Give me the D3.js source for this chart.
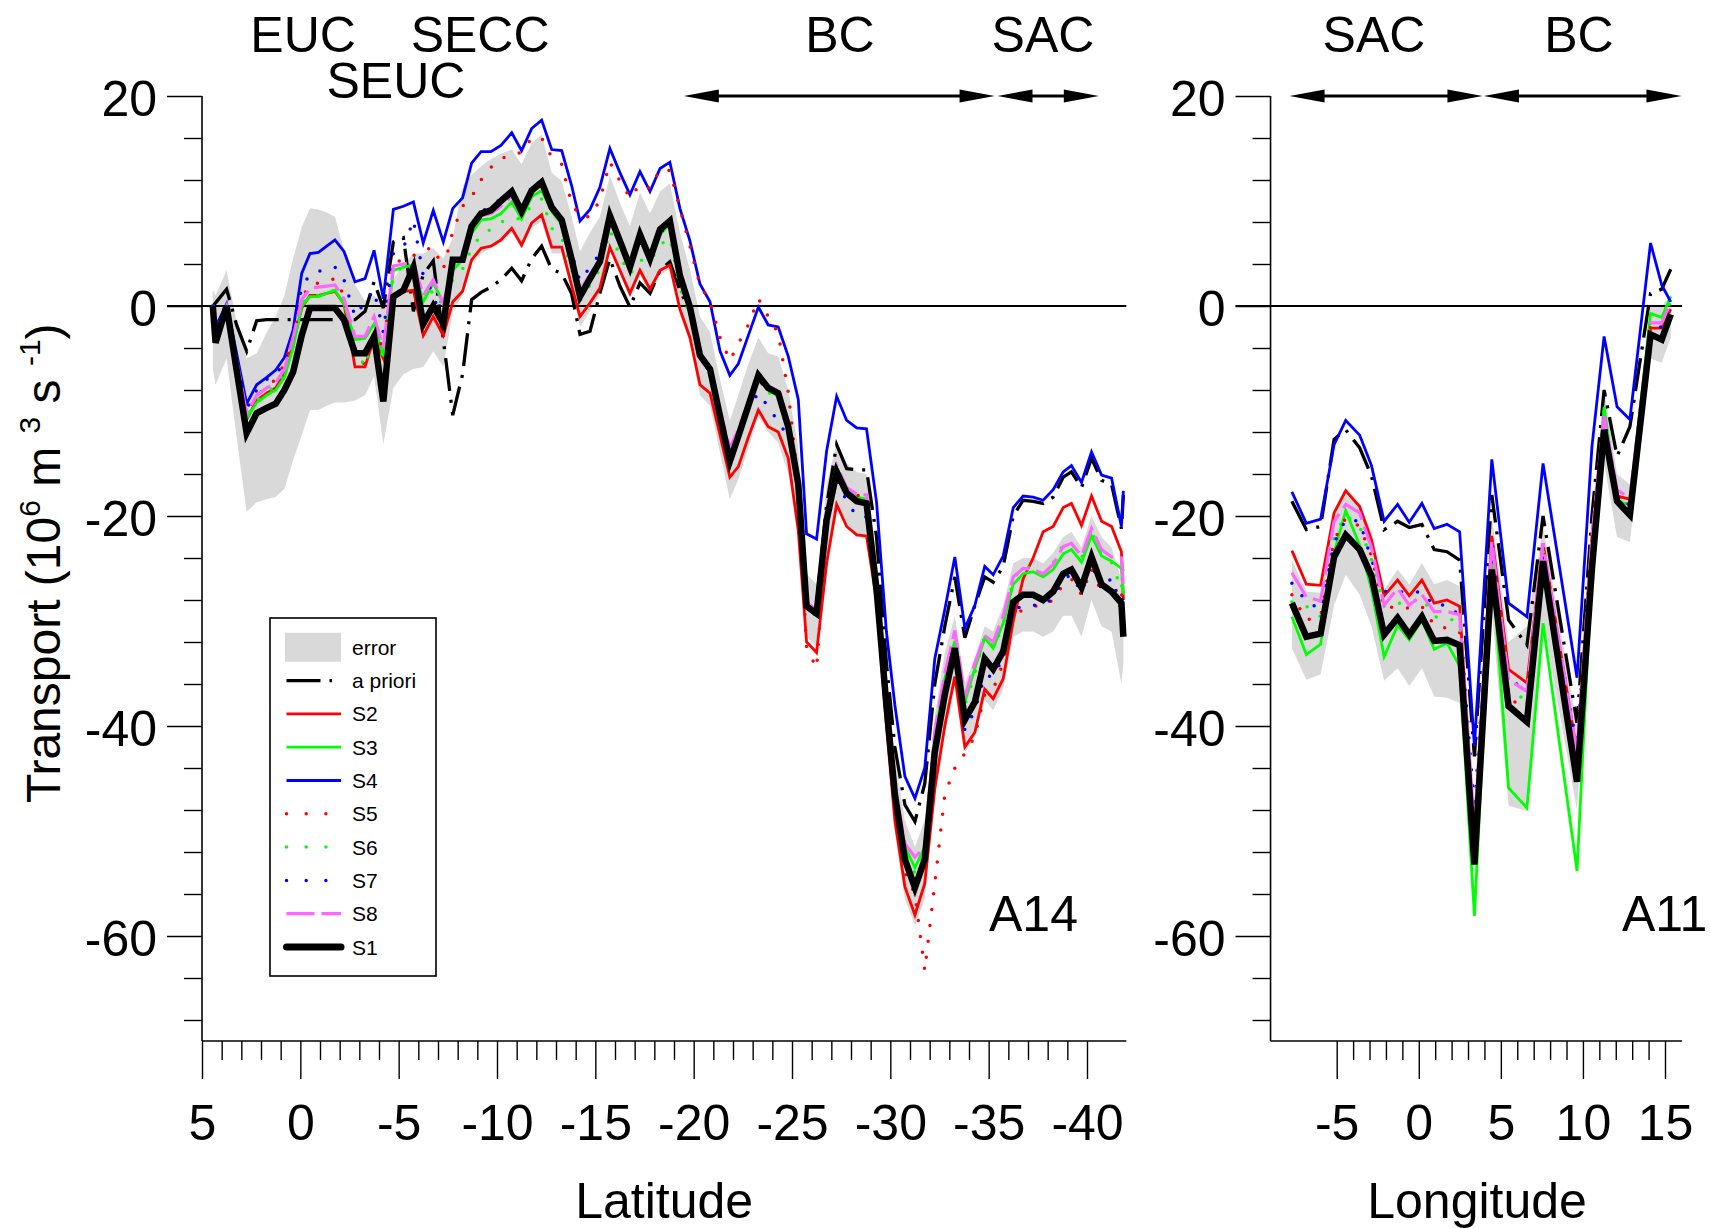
<!DOCTYPE html>
<html>
<head>
<meta charset="utf-8">
<script src="https://cdn.jsdelivr.net/npm/d3@7"></script>
<style>
  body { margin: 0; background: #fff; }
  svg { display: block; }
  text { font-family: "Liberation Sans", Arial, sans-serif; fill: #000; }
</style>
</head>
<body>
<svg id="chart" width="1710" height="1228"></svg>
<script>
// ---- A14 section (latitude) ----
var latA14 = [4.45, 4.31, 3.75, 3.24, 2.73, 2.22, 1.71, 1.25, 0.81, 0.37,
  -0.07, -0.49, -0.92, -1.34, -1.76, -2.22, -2.78, -3.29, -3.75, -4.22,
  -4.73, -5.24, -5.75, -6.25, -6.76, -7.27, -7.75, -8.25, -8.71, -9.19,
  -9.69, -10.20, -10.75, -11.25, -11.76, -12.27, -12.78, -13.29, -13.79, -14.22,
  -14.73, -15.23, -15.74, -16.25, -16.76, -17.27, -17.78, -18.29, -18.79, -19.30,
  -19.81, -20.32, -20.83, -21.34, -21.84, -22.27, -22.78, -23.29, -23.79, -24.30,
  -24.81, -25.32, -25.74, -26.25, -26.76, -27.27, -27.78, -28.29, -28.79, -29.30,
  -29.80, -30.23, -30.74, -31.25, -31.75, -32.26, -32.77, -33.28, -33.79, -34.30,
  -34.80, -35.23, -35.74, -36.25, -36.75, -37.26, -37.77, -38.28, -38.79, -39.21,
  -39.72, -40.23, -40.74, -41.25, -41.75, -41.85];

var s1A14 = [0, -3.5, 0, -6.1, -12.1, -10.2, -9.7, -9.3, -8.0, -6.3,
  -2.8, -0.2, -0.2, -0.2, -0.2, -1.3, -4.5, -4.5, -2.9, -9.1,
  0.9, 1.5, 3.7, -1.7, 0, -1.7, 4.4, 4.4, 7.6, 8.8,
  9.1, 10.0, 10.9, 9.0, 11.0, 11.8, 9.4, 8.2, 4.5, 0.9,
  2.6, 4.2, 8.6, 6.2, 3.7, 6.8, 4.5, 7.3, 8.1, 2.9,
  -0.1, -4.7, -6.0, -10.5, -14.8, -12.4, -9.5, -6.6, -7.8, -8.3,
  -11.5, -17, -28.6, -29.3, -20.4, -15.8, -17.8, -18.6, -18.8, -27,
  -38, -46.5, -52.7, -55.4, -52.7, -42.5, -37, -32.6, -39.4, -37.7,
  -33.6, -34.6, -32.9, -28.2, -27.5, -27.5, -28.0, -27.2, -25.5, -25.1,
  -26.8, -23.9, -26.5, -27.2, -28.3, -31.5];

var s2A14 = [0, -2.5, 0, -5.4, -10.8, -9.0, -8.3, -7.8, -6.4, -3.6,
  -0.2, 1.0, 1.0, 1.2, 1.4, 0.2, -5.8, -5.8, -3.0, -5.0,
  1.0, 1.4, 1.5, -2.8, -1.0, -2.8, 0.4, 1.4, 4.4, 5.5,
  5.7, 6.3, 7.4, 5.8, 7.9, 8.7, 5.6, 5.6, 2.0, -1.0,
  0.3, 1.7, 5.6, 3.4, 1.2, 3.4, 1.6, 3.4, 3.9, -0.3,
  -3.0, -7.5, -8.3, -12.3, -16.3, -15.3, -12.5, -9.9, -11.5, -12.0,
  -14.5, -21.4, -32, -33, -24.5, -18.9, -21.0, -21.8, -21.9, -28,
  -40, -49, -55.3, -58, -55, -46, -40, -35.3, -42, -40.6,
  -36.5, -37.4, -35.5, -30, -26, -24, -21.5, -21, -19.2, -18.8,
  -20.9, -18.1, -20.5, -21, -23.4, -28];

var s3A14 = [0, -2.8, 0, -5.8, -10.7, -9.2, -8.5, -8.0, -6.8, -4.0,
  0, 0.9, 0.9, 1.2, 1.5, 0.2, -3.2, -3.1, -1.7, -4.8,
  3.4, 3.7, 3.9, 0.4, 2.2, 0.3, 3.4, 4.4, 6.9, 8.2,
  8.3, 8.8, 9.9, 8.3, 10.4, 11.0, 9.0, 7.8, 4.3, 1.2,
  2.8, 4.3, 8.2, 5.8, 3.6, 6.3, 4.5, 6.8, 7.8, 2.5,
  -0.3, -4.9, -6.1, -10.2, -14.0, -12.0, -9.3, -6.9, -8.0, -8.6,
  -11.8, -17.3, -28.3, -29.0, -19.8, -15.4, -17.5, -18.2, -18.4, -26.5,
  -37.5, -46, -51.5, -53.5, -51.5, -41, -35.5, -31.9, -37.7, -34.5,
  -31.6, -32.6, -30.2, -26.5, -25.5, -25.3, -25.8, -25.1, -23.6, -23.2,
  -24.4, -21.9, -23.8, -24.3, -25, -27.5];

var s4A14 = [0, -2.0, 0.2, -4.5, -9.3, -7.5, -6.8, -6.1, -4.9, -2.3,
  3.1, 5.0, 5.1, 5.7, 6.3, 5.2, 2.3, 2.6, 5.3, 0.7,
  9.2, 9.5, 9.9, 6.0, 9.1, 6.1, 9.3, 10.3, 13.6, 14.7,
  14.7, 15.3, 16.5, 14.8, 16.9, 17.7, 14.9, 14.8, 11.5, 8.1,
  9.2, 11.3, 15.0, 12.7, 10.6, 12.8, 10.9, 13.1, 13.7, 9.3,
  6.2, 2.1, 0.4, -4.3, -6.6, -5.5, -2.8, -0.1, -1.8, -2.0,
  -4.8, -8.9, -21.7, -22.2, -13.8, -8.6, -10.9, -11.6, -11.7, -18.7,
  -31, -38, -44.8, -46.9, -44, -33.6, -28.9, -23.9, -30.7, -28.5,
  -24.8, -25.6, -23.8, -19.2, -18.1, -18.2, -18.5, -17.5, -15.8, -15.2,
  -16.8, -13.9, -16.1, -16.4, -21.0, -17.6];

var s5A14 = [0, -2.5, 0, -5.2, -10.3, -8.6, -7.6, -7.0, -5.5, -3.0,
  0.8, 2.0, 2.2, 2.4, 2.6, 1.0, -5.2, -5.5, -2.5, -4.0,
  4.0, 4.5, 4.8, 5.3, 5.6, 3.5, 7.1, 9.5, 10.4, 12.0,
  13.2, 14.0, 14.5, 14.6, 16.0, 16.0, 14.2, 13.5, 9.8, 8.5,
  8.5, 10.1, 13.7, 11.9, 10.3, 11.6, 11.2, 13.0, 12.9, 9.3,
  5.7, 2.0, 0.4, -3.0, -5.2, -3.6, -1.8, 0.7, -1.0, -2.6,
  -8.2, -17, -32.5, -34.5, -21, -16, -18, -17.8, -19.5, -27,
  -39, -48, -54, -56, -63.3, -55, -46.5, -44, -42.6, -41,
  -37, -36.5, -34, -29.5, -28.9, -28.6, -28.5, -28, -26.5, -26,
  -27.5, -25, -27.3, -26.3, -28, -24.5];

var s6A14 = [0, -2.7, 0, -5.6, -10.5, -9.0, -8.2, -7.6, -6.3, -3.8,
  0.2, 1.0, 1.0, 1.3, 1.5, 0.3, -4.0, -5.8, -2.5, -4.9,
  3.0, 3.8, 3.5, 0.3, 1.5, 0, 2.5, 3.5, 5.5, 6.8,
  7.3, 8.0, 8.3, 8.3, 9.6, 10.2, 7.4, 6.5, 3.5, 0.5,
  2.0, 3.5, 7.2, 4.7, 3.0, 4.4, 4.2, 5.8, 6.5, 1.7,
  -0.8, -5.0, -6.2, -10.5, -14.3, -12.2, -9.4, -7.0, -8.2, -8.8,
  -12.0, -17.5, -28.5, -29.2, -20.0, -15.5, -17.6, -18.4, -18.6, -26.8,
  -37.6, -46, -52, -54, -52, -41.5, -36, -32, -38, -35,
  -31.4, -32.5, -30.5, -26, -24.8, -25, -25.5, -24.5, -22.7, -22.6,
  -24, -21.5, -23.5, -24.4, -27, -24.5];

var s7A14 = [0, -2.2, 0.1, -4.8, -9.8, -8.0, -7.0, -6.6, -5.3, -2.6,
  1.8, 3.0, 3.3, 3.5, 3.7, 2.5, -1.0, 0.4, 1.5, -2.5,
  5.0, 5.5, 8.2, 2.9, 1.2, -2.3, 4.0, 5.0, 7.5, 9.0,
  9.5, 10.2, 10.6, 9.5, 11.0, 11.5, 9.3, 8.0, 5.0, 2.4,
  3.7, 5.0, 9.0, 6.0, 3.8, 6.5, 4.5, 7.0, 7.8, 2.5,
  -0.3, -5.0, -6.3, -10.5, -14.5, -12.4, -9.7, -8.3, -9.6, -11.0,
  -12.5, -17.5, -28.8, -29.5, -20.5, -16.5, -18.6, -20.0, -20.1, -27.5,
  -38.3, -46.8, -53, -55.7, -53, -43, -37.5, -33.5, -40.4, -38.5,
  -35.2, -35.3, -33.5, -29, -28.5, -28.5, -28.5, -27.8, -26, -25.6,
  -27.3, -24.5, -27, -25.9, -29, -26.5];

var s8A14 = [0, -2.6, 0, -5.2, -10.2, -8.5, -7.8, -7.3, -6.0, -3.0,
  0.6, 1.7, 1.8, 1.9, 2.0, 0.7, -2.9, -2.9, -1.0, -4.0,
  3.8, 4.0, 4.2, 1.0, 2.5, 0.2, 4.0, 4.6, 7.3, 8.6,
  8.8, 9.5, 10.5, 8.6, 10.8, 11.5, 9.2, 8.0, 4.5, 1.5,
  3.0, 4.5, 8.5, 6.0, 3.8, 6.5, 4.8, 7.5, 8.0, 2.8,
  0, -4.5, -5.8, -10.0, -13.5, -11.8, -9.2, -6.8, -7.9, -8.4,
  -11.4, -17, -28.2, -29.0, -19.6, -15.2, -17.3, -17.9, -18.0, -26.5,
  -37.3, -45.8, -51.2, -52.5, -51.5, -40.5, -35, -30.9, -37.2, -34,
  -31.4, -32, -29.5, -25.8, -25, -25.1, -25.5, -24.6, -22.9, -22.6,
  -23.8, -21.2, -23.2, -23.9, -24, -26.8];

var aprioriA14 = [0, 0.3, 1.6, -1.8, -4.3, -1.4, -1.3, -1.3, -1.3, -1.3,
  -1.3, -1.3, -1.3, -1.3, -1.3, -1.3, -1.3, -0.5, 2.3, -0.2,
  6.1, 6.5, -0.5, 3.0, 4.3, -3.2, -10.4, -6.5, 0.6, 1.3,
  1.8, 2.5, 3.6, 2.4, 4.5, 5.7, 3.5, 3.1, 1.2, -2.7,
  -2.4, 1.2, 4.5, 1.9, -0.1, 2.2, 1.2, 3.4, 4.2, 1.5,
  -0.5, -4.5, -6.0, -10.3, -14.5, -12.2, -9.3, -7.0, -8.0, -8.5,
  -11.5, -16.5, -28, -28.5, -19, -13.2, -15.5, -15.6, -15.6, -22,
  -34, -42, -47.5, -49.1, -45.5, -36, -30.5, -25.8, -31.6, -28.5,
  -25.8, -26.3, -24.8, -20, -18.5, -18.6, -18.8, -18.2, -16.3, -15.8,
  -17.3, -14.5, -16.6, -17, -21.2, -18];

var errLoA14 = [-6, -7.5, -5, -12.5, -19.6, -18.7, -18.4, -18.2, -17.4, -14.7,
  -12.3, -9.9, -9.9, -9.5, -9.2, -9.2, -9.0, -8.5, -6.7, -13.2,
  -7.8, -6.5, -6.0, -5.8, -4.3, -5.8, -0.5, 1.0, 4.1, 5.0,
  5.5, 6.0, 7.0, 5.5, 7.5, 8.0, 5.0, 5.0, 1.5, -2.0,
  -0.5, 1.2, 5.5, 3.0, 0.8, 3.0, 1.0, 3.0, 3.5, -0.8,
  -3.5, -8.5, -9.5, -14, -18.4, -16.5, -13.5, -10.5, -12, -13,
  -16, -21, -31.5, -32.5, -24, -19, -21, -22, -22.2, -30,
  -41, -50, -56.5, -59, -56.5, -46, -40, -36, -42.5, -41,
  -37.5, -38.5, -36.5, -31.5, -31, -31, -31.5, -31, -29.5, -29.5,
  -31.5, -28, -30.5, -31, -36, -34];

var errHiA14 = [1.5, 1, 3.4, -1.5, -5, -4.5, -2.5, -1, 1, 4.5,
  7.5, 9.3, 9.2, 8.9, 8.5, 5.3, 2, 0.5, 1, 0,
  2.5, 4, 5, 5, 5.5, 4.5, 6.5, 11.4, 12.5, 13.3,
  14, 14.5, 14.9, 13.5, 15.5, 16.3, 12.7, 11.9, 8.5, 5.2,
  7.0, 8.5, 12.4, 9.8, 7.6, 10.8, 8.8, 10.9, 11.7, 7.0,
  3.5, -1.0, -2.5, -7, -10.9, -8.5, -5.5, -3.0, -4.5, -4.8,
  -8, -13.5, -25.5, -26.5, -17, -13, -15, -15.8, -16, -24,
  -35, -43, -49, -51.5, -49, -39, -33, -29.5, -36, -33.5,
  -30.5, -31, -28.5, -24.5, -24, -24, -24.5, -23.5, -22, -21.5,
  -23, -20, -22, -23, -26, -24];

// ---- A11 section (longitude) ----
var lonA11 = [-7.73, -6.85, -5.98, -5.16, -4.45, -3.6, -2.88, -2.11, -1.29, -0.58,
  0.19, 0.94, 1.72, 2.49, 3.39, 4.45, 5.47, 6.59, 7.57, 9.64,
  10.55, 11.29, 12.08, 12.86, 14.12, 14.8, 15.35];
var s1A11 = [-28.3, -31.5, -31.2, -23.9, -21.8, -23.2, -25.7, -31.3, -29.7, -31.3,
  -29.6, -31.9, -31.8, -32.3, -53.2, -25.1, -38.1, -39.6, -24.3, -45.3,
  -25, -11.8, -18.6, -19.9, -2.7, -3.2, -0.8];
var s2A11 = [-23.3, -26.5, -26.6, -19.7, -17.6, -19.1, -22.3, -27.6, -26.1, -27.6,
  -26.1, -28.3, -28.0, -28.6, -51, -21.9, -34.6, -35.9, -22.6, -42.6,
  -22, -10.5, -18.1, -18.4, -2.1, -2.1, -0.3];
var s3A11 = [-29.6, -33.2, -32.2, -23.5, -19.5, -22.8, -27, -33.4, -30.4, -31.8,
  -29.9, -32.7, -32.1, -34.3, -58.1, -24.4, -45.9, -47.8, -30.2, -53.8,
  -25, -9.6, -18.6, -18.9, -0.7, -1.1, 0.9];
var s4A11 = [-17.7, -20.7, -20.3, -13.2, -10.9, -12.3, -15.2, -20.5, -18.9, -20.6,
  -18.8, -21.2, -20.8, -21.5, -41.9, -14.6, -28.3, -29.6, -15.0, -35.4,
  -13.4, -2.9, -9.6, -10.8, 6.0, 2.0, 0.4];
var s5A11 = [-27.5, -29.9, -29.6, -22.3, -20.2, -21.0, -23.8, -28.8, -28.6, -28.8,
  -28.6, -30.4, -30.7, -31.1, -50.5, -22.1, -37.5, -38.1, -23.0, -43,
  -23, -11, -18, -19, -2, -2, -0.5];
var s6A11 = [-28.2, -28.6, -29.6, -22, -19.9, -21, -24.2, -28.6, -28.3, -28.3,
  -27.8, -29.6, -29.7, -30.2, -52, -24.4, -36.7, -37.5, -23.2, -44,
  -23, -10, -18.5, -19, -1.5, -1.5, 0.5];
var s7A11 = [-26.4, -28.1, -28.9, -22.6, -20.3, -20.5, -24.2, -27.2, -27.2, -27.3,
  -27.2, -28.6, -28.4, -29.5, -48, -22.9, -35.6, -36.5, -23.7, -42,
  -22, -10.5, -18, -19, -2, -2, 0];
var s8A11 = [-25.4, -27.7, -28.1, -20.5, -18.9, -19.7, -23, -28.5, -26.9, -28.5,
  -27.5, -29.1, -29.1, -29.4, -50, -22.4, -35.6, -36.7, -22.6, -42.6,
  -22, -10.5, -17.5, -18.3, -1.6, -1.6, 0.3];
var aprioriA11 = [-18.6, -21.3, -21.0, -12.7, -11.8, -13.5, -16.2, -21.3, -20.5, -21.1,
  -20.8, -23.2, -23.4, -24.2, -42.9, -18, -29.9, -32.3, -20, -39.7,
  -20, -8, -14.3, -11.5, 1.2, 1.6, 3.5];
var errLoA11 = [-32.6, -35.6, -35.1, -28.5, -25.6, -27.5, -30.5, -35.7, -34.5, -36.2,
  -34.5, -37.2, -37.3, -37.8, -55, -29, -47.6, -48.1, -30, -48,
  -28, -15, -22, -22.5, -5, -5.4, -3];
var errHiA11 = [-24.2, -27.2, -27.3, -19.5, -18, -19, -21.5, -27, -25.1, -26.5,
  -24.5, -26.5, -26.1, -26.7, -47, -20, -32, -30.5, -21, -40,
  -20, -8, -16, -17, 0, 0, 1];

// ---- axes / annotations ----
var yMajor = [20, 0, -20, -40, -60];
var yMinor = [16, 12, 8, 4, -4, -8, -12, -16, -24, -28, -32, -36, -44, -48, -52, -56, -64, -68];
var latMajor = [5, 0, -5, -10, -15, -20, -25, -30, -35, -40];
var lonMajor = [-5, 0, 5, 10, 15];
var regionsA14 = [["EUC", -0.14, 0], ["SEUC", -4.86, 1], ["SECC", -9.14, 0], ["BC", -27.44, 0], ["SAC", -37.76, 0]];
var regionsA11 = [["SAC", -2.73, 0], ["BC", 9.76, 0]];
var arrowsA14 = [[-19.5, -35.3], [-35.45, -40.6]];
var arrowsA11 = [[-7.87, 3.88], [3.97, 16.0]];

var svg = d3.select("#chart");

var y = d3.scaleLinear().domain([-70, 20]).range([1041, 96]);
var xL = d3.scaleLinear().domain([5, -40]).range([202, 1087]);
var xR = d3.scaleLinear().domain([-5, 15]).range([1336.7, 1665]);

var styles = {
  apriori: { stroke: "#000", width: 3.3, dash: "33,9,3,9" },
  s2: { stroke: "#ff0000", width: 2.8 },
  s3: { stroke: "#00ff00", width: 2.8 },
  s4: { stroke: "#0000ff", width: 2.8 },
  s5: { stroke: "#ff0000", width: 3.5, dash: "0,16", cap: "round" },
  s6: { stroke: "#00ff00", width: 3.5, dash: "0,16", cap: "round" },
  s7: { stroke: "#0000ff", width: 3.5, dash: "0,16", cap: "round" },
  s8: { stroke: "#ff66ff", width: 3.2, dash: "28,7" },
  s1: { stroke: "#000", width: 6.5 }
};

function drawPanel(x, xs, series, lo, hi, x0, x1) {
  var g = svg.append("g");
  var band = xs.map(function (d, i) { return [d, lo[i], hi[i]]; });
  g.append("path")
    .attr("d", d3.area().x(function (d) { return x(d[0]); })
      .y0(function (d) { return y(d[1]); })
      .y1(function (d) { return y(d[2]); })(band))
    .attr("fill", "#d9d9d9");

  // zero line
  g.append("line")
    .attr("x1", x0 - 35).attr("x2", x1)
    .attr("y1", y(0)).attr("y2", y(0))
    .attr("stroke", "#000").attr("stroke-width", 1.8);

  var line = d3.line().x(function (d) { return x(d[0]); }).y(function (d) { return y(d[1]); });
  series.forEach(function (s) {
    var st = styles[s.key];
    g.append("path")
      .attr("d", line(xs.map(function (d, i) { return [d, s.values[i]]; })))
      .attr("fill", "none")
      .attr("stroke", st.stroke)
      .attr("stroke-width", st.width)
      .attr("stroke-dasharray", st.dash || null)
      .attr("stroke-linecap", st.cap || "butt")
      .attr("stroke-linejoin", "miter");
  });
}

function drawAxes(x, x0, x1, ticksMajor, ticksMinor) {
  var gy = svg.append("g").attr("transform", "translate(" + x0 + ",0)");
  gy.append("g").call(d3.axisLeft(y).tickValues(yMajor).tickSize(35).tickPadding(10).tickFormat(String));
  gy.append("g").call(d3.axisLeft(y).tickValues(yMinor).tickSize(18).tickFormat(""));
  gy.append("line").attr("x1", 0).attr("x2", 0).attr("y1", y(20)).attr("y2", y(-70))
    .attr("stroke", "#000").attr("stroke-width", 1.6);

  var gx = svg.append("g").attr("transform", "translate(0," + y(-70) + ")");
  gx.append("g").call(d3.axisBottom(x).tickValues(ticksMajor).tickSize(38).tickPadding(25.5).tickFormat(String));
  gx.append("g").call(d3.axisBottom(x).tickValues(ticksMinor).tickSize(19).tickFormat(""));
  gx.append("line").attr("x1", x0).attr("x2", x1).attr("y1", 0).attr("y2", 0)
    .attr("stroke", "#000").attr("stroke-width", 1.6);

  [gy, gx].forEach(function (g) {
    g.selectAll(".domain").remove();
    g.selectAll(".tick line").attr("stroke-width", 1.4);
    g.selectAll("text")
      .attr("font-size", 50)
      .attr("font-family", "Liberation Sans, Arial, sans-serif");
  });
  gy.selectAll(".tick text").attr("dy", "0.38em");
}

function drawRegions(x, regions, arrows) {
  regions.forEach(function (r) {
    svg.append("text")
      .attr("x", x(r[1])).attr("y", r[2] === 0 ? 52 : 98)
      .attr("text-anchor", "middle")
      .attr("font-size", 50)
      .text(r[0]);
  });
  var yy = y(20);
  arrows.forEach(function (a) {
    var xa = x(a[0]), xb = x(a[1]);
    var left = Math.min(xa, xb), right = Math.max(xa, xb);
    svg.append("line")
      .attr("x1", left + 10).attr("x2", right - 10)
      .attr("y1", yy).attr("y2", yy)
      .attr("stroke", "#000").attr("stroke-width", 3);
    svg.append("path")
      .attr("d", "M" + left + "," + yy + "L" + (left + 35) + "," + (yy - 6.5) + "L" + (left + 35) + "," + (yy + 6.5) + "Z")
      .attr("fill", "#000");
    svg.append("path")
      .attr("d", "M" + right + "," + yy + "L" + (right - 35) + "," + (yy - 6.5) + "L" + (right - 35) + "," + (yy + 6.5) + "Z")
      .attr("fill", "#000");
  });
}

// left panel
drawPanel(xL, latA14, [
  { key: "apriori", values: aprioriA14 },
  { key: "s2", values: s2A14 },
  { key: "s3", values: s3A14 },
  { key: "s4", values: s4A14 },
  { key: "s5", values: s5A14 },
  { key: "s6", values: s6A14 },
  { key: "s7", values: s7A14 },
  { key: "s8", values: s8A14 },
  { key: "s1", values: s1A14 }
], errLoA14, errHiA14, xL(5), xL(-42));

drawPanel(xR, lonA11, [
  { key: "apriori", values: aprioriA11 },
  { key: "s2", values: s2A11 },
  { key: "s3", values: s3A11 },
  { key: "s4", values: s4A11 },
  { key: "s5", values: s5A11 },
  { key: "s6", values: s6A11 },
  { key: "s7", values: s7A11 },
  { key: "s8", values: s8A11 },
  { key: "s1", values: s1A11 }
], errLoA11, errHiA11, xR(-9.03), xR(16.04));

drawAxes(xL, xL(5), xL(-42), latMajor, d3.range(5, -41, -1).filter(function (d) { return d % 5 !== 0; }));
drawAxes(xR, xR(-9.03), xR(16.04), lonMajor, d3.range(-5, 16, 1).filter(function (d) { return d % 5 !== 0; }));

drawRegions(xL, regionsA14, arrowsA14);
drawRegions(xR, regionsA11, arrowsA11);

// axis titles
svg.append("text").attr("x", xL(-18.5)).attr("y", 1218).attr("text-anchor", "middle").attr("font-size", 50).text("Latitude");
svg.append("text").attr("x", xR(3.55)).attr("y", 1218).attr("text-anchor", "middle").attr("font-size", 50).text("Longitude");
svg.append("text").attr("x", 989).attr("y", 931).attr("font-size", 50).text("A14");
svg.append("text").attr("x", 1622).attr("y", 931).attr("font-size", 50).text("A11");

var yt = svg.append("text")
  .attr("transform", "translate(60," + y(-24.5) + ") rotate(-90)")
  .attr("text-anchor", "middle")
  .attr("font-size", 48);
yt.append("tspan").text("Transport (10");
yt.append("tspan").attr("font-size", 30).attr("dy", -20).text("6");
yt.append("tspan").attr("dy", 20).text(" m ");
yt.append("tspan").attr("font-size", 30).attr("dy", -20).text("3");
yt.append("tspan").attr("dy", 20).text(" s ");
yt.append("tspan").attr("font-size", 30).attr("dy", -20).text("-1");
yt.append("tspan").attr("dy", 20).text(")");

// legend
var legendItems = [
  { key: "error", label: "error" },
  { key: "apriori", label: "a priori" },
  { key: "s2", label: "S2" },
  { key: "s3", label: "S3" },
  { key: "s4", label: "S4" },
  { key: "s5", label: "S5" },
  { key: "s6", label: "S6" },
  { key: "s7", label: "S7" },
  { key: "s8", label: "S8" },
  { key: "s1", label: "S1" }
];
var lg = svg.append("g").attr("transform", "translate(270,618)");
lg.append("rect").attr("width", 166).attr("height", 358)
  .attr("fill", "#fff").attr("stroke", "#000").attr("stroke-width", 1.6);
legendItems.forEach(function (it, i) {
  var cy = 29.3 + i * 33.3;
  if (it.key === "error") {
    lg.append("rect").attr("x", 15).attr("y", cy - 14.5).attr("width", 56).attr("height", 29).attr("fill", "#d9d9d9");
  } else {
    var st = styles[it.key];
    var leg = lg.append("line")
      .attr("x1", 16.5).attr("x2", 71).attr("y1", cy).attr("y2", cy)
      .attr("stroke", st.stroke)
      .attr("stroke-width", it.key === "s1" ? 7 : st.width)
      .attr("stroke-linecap", it.key === "s1" ? "round" : (st.cap || "butt"));
    if (it.key === "apriori") leg.attr("stroke-dasharray", "34,9,2.5,20");
    else if (st.dash && st.cap) leg.attr("stroke-dasharray", "0,19.7");
    else if (st.dash) leg.attr("stroke-dasharray", st.dash);
  }
  lg.append("text").attr("x", 82).attr("y", cy + 7.5).attr("font-size", 21).text(it.label);
});
</script>
</body>
</html>
